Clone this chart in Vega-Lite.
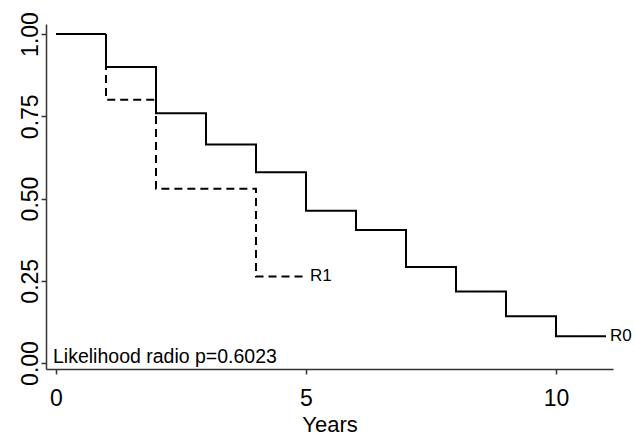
{
  "$schema": "https://vega.github.io/schema/vega-lite/v6.json",
  "width": 567,
  "height": 345,
  "autosize": "none",
  "padding": {"left": 46, "top": 24, "right": 22, "bottom": 68},
  "background": "white",
  "config": {
    "view": {"stroke": null},
    "font": "Liberation Sans",
    "axis": {
      "grid": false,
      "domainColor": "#333",
      "domainWidth": 1.5,
      "tickColor": "#333",
      "tickWidth": 1.5,
      "tickSize": 5,
      "labelColor": "black",
      "titleColor": "black",
      "labelFont": "Liberation Sans",
      "titleFont": "Liberation Sans",
      "titleFontWeight": "normal"
    }
  },
  "datasets": {
    "curves": [
      {"group": "R0", "t": 0, "s": 1.0},
      {"group": "R0", "t": 1, "s": 0.9},
      {"group": "R0", "t": 2, "s": 0.759},
      {"group": "R0", "t": 3, "s": 0.664},
      {"group": "R0", "t": 4, "s": 0.58},
      {"group": "R0", "t": 5, "s": 0.463},
      {"group": "R0", "t": 6, "s": 0.404},
      {"group": "R0", "t": 7, "s": 0.292},
      {"group": "R0", "t": 8, "s": 0.217},
      {"group": "R0", "t": 9, "s": 0.142},
      {"group": "R0", "t": 10, "s": 0.081},
      {"group": "R0", "t": 11, "s": 0.081},
      {"group": "R1", "t": 0, "s": 1.0},
      {"group": "R1", "t": 1, "s": 0.8},
      {"group": "R1", "t": 2, "s": 0.53},
      {"group": "R1", "t": 4, "s": 0.263},
      {"group": "R1", "t": 5, "s": 0.263}
    ],
    "note": [
      {"text": "Likelihood radio p=0.6023"}
    ]
  },
  "layer": [
    {
      "data": {"name": "curves"},
      "mark": {"type": "line", "interpolate": "step-after", "strokeWidth": 2, "color": "black"},
      "encoding": {
        "x": {
          "field": "t", "type": "quantitative",
          "scale": {"domain": [-0.2, 11.14], "nice": false, "zero": false},
          "axis": {"values": [0, 5, 10], "title": "Years", "labelFontSize": 23, "titleFontSize": 22, "labelPadding": 13, "titlePadding": 4, "labelFlush": false}
        },
        "y": {
          "field": "s", "type": "quantitative",
          "scale": {"domain": [-0.0182, 1.0304], "nice": false, "zero": false},
          "axis": {"values": [0, 0.25, 0.5, 0.75, 1], "format": ".2f", "title": null, "labelAngle": -90, "labelAlign": "center", "labelBaseline": "alphabetic", "labelPadding": 4, "labelFontSize": 23, "labelFlush": false}
        },
        "detail": {"field": "group"},
        "strokeDash": {
          "field": "group", "type": "nominal",
          "scale": {"domain": ["R0", "R1"], "range": [[1, 0], [8, 5]]},
          "legend": null
        }
      }
    },
    {
      "data": {"name": "curves"},
      "transform": [
        {"joinaggregate": [{"op": "max", "field": "t", "as": "tmax"}], "groupby": ["group"]},
        {"filter": "datum.t === datum.tmax"}
      ],
      "mark": {"type": "text", "align": "left", "baseline": "middle", "dx": 4, "fontSize": 17, "color": "black"},
      "encoding": {
        "x": {"field": "t", "type": "quantitative"},
        "y": {"field": "s", "type": "quantitative"},
        "text": {"field": "group"}
      }
    },
    {
      "data": {"name": "note"},
      "mark": {"type": "text", "align": "left", "baseline": "alphabetic", "fontSize": 19.5, "color": "black"},
      "encoding": {
        "x": {"datum": -0.06},
        "y": {"datum": 0},
        "text": {"field": "text"}
      }
    }
  ]
}
